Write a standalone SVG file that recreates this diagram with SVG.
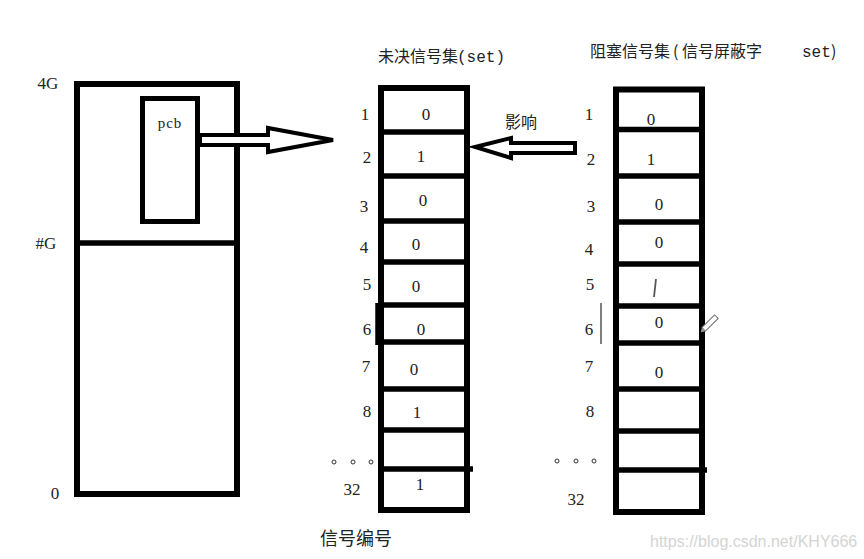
<svg xmlns="http://www.w3.org/2000/svg" width="864" height="559" viewBox="0 0 864 559">
<style>
.box{fill:none;stroke:#000;stroke-width:6}
.sep{stroke:#000;stroke-width:5.5}
.num{font-family:"Liberation Serif",serif;font-size:17px;fill:#222;text-anchor:middle}
.cjk{font-family:"Noto Sans CJK SC",sans-serif;fill:#222}
.mono{font-family:"Liberation Mono",monospace}
.arrow{fill:#fff;stroke:#000;stroke-width:4;stroke-linejoin:miter}
.dot{fill:none;stroke:#333;stroke-width:1}
</style>
<rect width="864" height="559" fill="#fff"/>

<g id="memory">
  <rect class="box" x="77" y="84" width="160" height="410"/>
  <line class="sep" x1="77" y1="243" x2="237" y2="243"/>
  <text class="num" x="48" y="89" font-size="15">4G</text>
  <text class="num" x="46" y="249" font-size="15">#G</text>
  <text class="num" x="55" y="499" font-size="15">0</text>
</g>

<g id="pcb">
  <rect x="142.5" y="98.5" width="55" height="123" fill="none" stroke="#000" stroke-width="5"/>
  <text x="170" y="128" font-family="Liberation Serif, serif" font-size="15" letter-spacing="1" text-anchor="middle" fill="#222">pcb</text>
</g>

<g id="pending">
  <text class="cjk" x="378" y="62" font-size="16">未决信号集<tspan class="mono" x="457">(set)</tspan></text>
  <rect class="box" x="381" y="88" width="86" height="422"/>
  <line class="sep" x1="381" y1="132" x2="467" y2="132"/>
  <line class="sep" x1="381" y1="176" x2="467" y2="176"/>
  <line class="sep" x1="381" y1="221" x2="467" y2="221"/>
  <line class="sep" x1="381" y1="262" x2="467" y2="262"/>
  <line class="sep" x1="381" y1="305" x2="467" y2="305"/>
  <line class="sep" x1="381" y1="342" x2="467" y2="342"/>
  <line class="sep" x1="381" y1="389" x2="467" y2="389"/>
  <line class="sep" x1="381" y1="430" x2="467" y2="430"/>
  <line class="sep" x1="381" y1="469" x2="473" y2="469"/>
  <line class="sep" x1="378" y1="303" x2="378" y2="345"/>
  <text class="num" x="365" y="120">1</text>
  <text class="num" x="367" y="163">2</text>
  <text class="num" x="364" y="212">3</text>
  <text class="num" x="364" y="253">4</text>
  <text class="num" x="367" y="290">5</text>
  <text class="num" x="367" y="335">6</text>
  <text class="num" x="366" y="372">7</text>
  <text class="num" x="367" y="417">8</text>
  <circle class="dot" cx="334" cy="462" r="2"/>
  <circle class="dot" cx="353" cy="462" r="2"/>
  <circle class="dot" cx="371" cy="462" r="2"/>
  <text class="num" x="352" y="495">32</text>
  <text class="num" x="426" y="120">0</text>
  <text class="num" x="421" y="162">1</text>
  <text class="num" x="423" y="206">0</text>
  <text class="num" x="416" y="250">0</text>
  <text class="num" x="416" y="292">0</text>
  <text class="num" x="421" y="335">0</text>
  <text class="num" x="414" y="375">0</text>
  <text class="num" x="417" y="418">1</text>
  <text class="num" x="420" y="490">1</text>
  <text class="cjk" x="320" y="545" font-size="18">信号编号</text>
</g>

<g id="blocked">
  <text class="cjk" x="590" y="57" font-size="16">阻塞信号集<tspan x="673">(</tspan><tspan x="682">信号屏蔽字</tspan><tspan class="mono" x="802">set</tspan><tspan x="831">)</tspan></text>
  <rect class="box" x="616" y="89.5" width="86" height="422.5"/>
  <line class="sep" x1="616" y1="129.5" x2="702" y2="129.5"/>
  <line class="sep" x1="616" y1="176" x2="702" y2="176"/>
  <line class="sep" x1="616" y1="222" x2="702" y2="222"/>
  <line class="sep" x1="616" y1="264" x2="702" y2="264"/>
  <line class="sep" x1="616" y1="306" x2="702" y2="306"/>
  <line class="sep" x1="616" y1="343" x2="702" y2="343"/>
  <line class="sep" x1="616" y1="389" x2="702" y2="389"/>
  <line class="sep" x1="616" y1="431" x2="702" y2="431"/>
  <line class="sep" x1="616" y1="470" x2="707" y2="470"/>
  <line x1="601" y1="303" x2="601" y2="344" stroke="#555" stroke-width="1.5"/>
  <text class="num" x="589" y="120">1</text>
  <text class="num" x="591" y="165">2</text>
  <text class="num" x="591" y="212">3</text>
  <text class="num" x="589" y="255">4</text>
  <text class="num" x="590" y="290">5</text>
  <text class="num" x="589" y="335">6</text>
  <text class="num" x="589" y="372">7</text>
  <text class="num" x="590" y="417">8</text>
  <circle class="dot" cx="557" cy="461" r="2"/>
  <circle class="dot" cx="576" cy="461" r="2"/>
  <circle class="dot" cx="594" cy="461" r="2"/>
  <text class="num" x="576" y="505">32</text>
  <text class="num" x="651" y="125">0</text>
  <text class="num" x="651" y="165">1</text>
  <text class="num" x="659" y="210">0</text>
  <text class="num" x="659" y="248">0</text>
  <line x1="656" y1="279" x2="654" y2="297" stroke="#555" stroke-width="1.8"/>
  <text class="num" x="659" y="328">0</text>
  <text class="num" x="659" y="378">0</text>
  <g transform="translate(710,323) rotate(-45)">
    <rect x="-9" y="-2.5" width="18" height="5" fill="#fff" stroke="#666" stroke-width="1"/>
    <path d="M-9,-2.5 L-13,0 L-9,2.5 Z" fill="#999"/>
  </g>
</g>

<g id="connectors">
  <polygon class="arrow" points="200,135 268,135 268,128 333,140 268,152 268,145 200,145"/>
  <polygon class="arrow" points="575,143 511,143 511,138 475,147 511,158 511,153 575,153"/>
  <text class="cjk" x="505" y="128" font-size="16">影响</text>
</g>

<text x="650" y="547" font-family="Liberation Sans, sans-serif" font-size="16" fill="#d4d4d4">https://blog.csdn.net/KHY666</text>
</svg>
